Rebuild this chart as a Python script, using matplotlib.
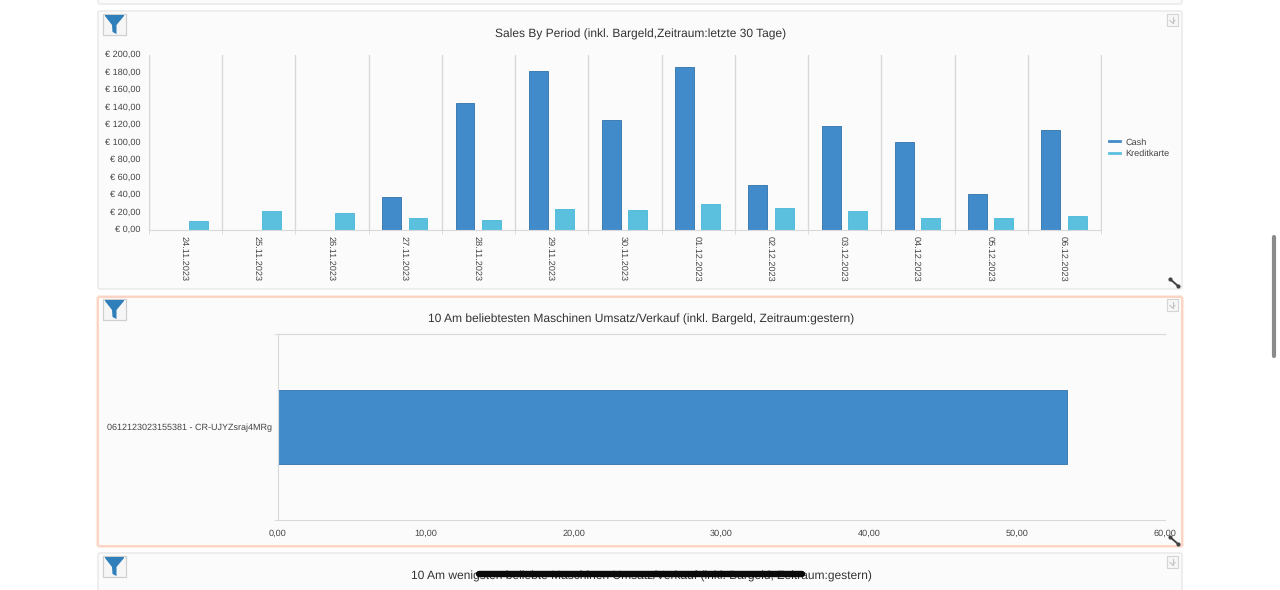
import numpy as np
import matplotlib
matplotlib.use('Agg')
import matplotlib.pyplot as plt
from matplotlib.patches import Rectangle, FancyBboxPatch, Polygon
from matplotlib.transforms import ScaledTranslation

W, H = 1280, 590
plt.rcParams['font.family'] = ['Liberation Sans', 'DejaVu Sans']
plt.rcParams['text.hinting'] = 'no_hinting'

# Data
dates = ['24.11.2023', '25.11.2023', '26.11.2023', '27.11.2023', '28.11.2023',
         '29.11.2023', '30.11.2023', '01.12.2023', '02.12.2023', '03.12.2023',
         '04.12.2023', '05.12.2023', '06.12.2023']
cash = [0, 0, 0, 38, 145, 182, 126, 186, 52, 119, 101, 41, 114]
kredit = [10, 22, 20, 14, 11, 23.5, 22.5, 29.5, 25, 22, 14, 13.5, 16]
y_ticks = [0, 20, 40, 60, 80, 100, 120, 140, 160, 180, 200]
y_labels = ['€ 0,00', '€ 20,00', '€ 40,00', '€ 60,00', '€ 80,00', '€ 100,00',
            '€ 120,00', '€ 140,00', '€ 160,00', '€ 180,00', '€ 200,00']
machines = ['0612123023155381 - CR-UJYZsraj4MRg']
umsatz = [53.4]
x_ticks = [0, 10, 20, 30, 40, 50, 60]
x_labels = ['0,00', '10,00', '20,00', '30,00', '40,00', '50,00', '60,00']

BLUE = '#428bca'
BLUE_EDGE = '#3071a9'
LIGHT = '#5bc0de'
LIGHT_EDGE = '#46b8da'
GRID = '#d8d8d8'
TEXT = '#444444'
TITLE = '#333333'
PANEL = '#fbfbfb'
FS = 6.55


def px_axes(fig, left, top, right, bottom, **kw):
    return fig.add_axes([left / W, 1 - bottom / H, (right - left) / W, (bottom - top) / H], **kw)


fig = plt.figure(figsize=(W / 100, H / 100), dpi=100, facecolor='white')

# page layer in pixels: panels, buttons, scrollbar
bg = fig.add_axes([0, 0, 1, 1], zorder=0)
bg.set_xlim(0, W)
bg.set_ylim(H, 0)
bg.axis('off')


def panel(top, bottom, edge='#e8e8e8', lw=1.0):
    bg.add_patch(FancyBboxPatch((98, top), 1084, bottom - top, boxstyle='round,pad=0,rounding_size=2',
                                fc=PANEL, ec=edge, lw=lw))


def filter_button(top):
    x0 = 102.5
    bg.add_patch(Rectangle((x0, top), 23, 21, fc='#f6f6f6', ec='#d0d0d0', lw=0.9))
    bg.add_patch(Polygon([(x0 + 2.5, top + 1), (x0 + 21.5, top + 1), (x0 + 21.5, top + 2), (x0 + 14, top + 11),
                          (x0 + 14, top + 20), (x0 + 10, top + 18), (x0 + 9.5, top + 11), (x0 + 2.5, top + 2)],
                         fc='#2f7fba', ec='none'))


def save_button(top):
    bg.add_patch(Rectangle((1167, top), 11, 12, fc='#f6f6f6', ec='#d4d4d4', lw=0.8))
    bg.plot([1172.5, 1172.5], [top + 2.5, top + 9], color='#c4c4c4', lw=0.8)
    bg.plot([1170, 1172.5, 1175], [top + 6.5, top + 9, top + 6.5], color='#c4c4c4', lw=0.8)


def resize_handle(x, y):
    bg.plot([x, x + 8], [y, y + 7], color='#444444', lw=1.4, solid_capstyle='round')
    bg.plot([x, x + 8], [y, y + 7], ls='none', marker='o', ms=2, color='#444444')


panel(-20, 4)
panel(11, 289)
panel(553, 610)
# soft glow round the selected panel
panel(297, 546, edge='#fdeae2', lw=3)
panel(297, 546, edge='#fbcfbd', lw=1.2)
filter_button(14)
filter_button(299)
filter_button(556)
save_button(14)
save_button(299)
save_button(556)
resize_handle(1170, 279)
resize_handle(1170, 537)

bg.text(641, 34.5, 'Sales By Period (inkl. Bargeld,Zeitraum:letzte 30 Tage)', ha='center', va='center',
        fontsize=8.65, color=TITLE)
bg.text(641, 319.5, '10 Am beliebtesten Maschinen Umsatz/Verkauf (inkl. Bargeld, Zeitraum:gestern)',
        ha='center', va='center', fontsize=8.65, color=TITLE)
bg.text(641, 576.5, '10 Am wenigsten beliebte Maschinen Umsatz/Verkauf (inkl. Bargeld, Zeitraum:gestern)',
        ha='center', va='center', fontsize=8.65, color=TITLE)

# scrollbar and the black strip at the bottom
bg.plot([1273.5, 1273.5], [237, 356], color='#8a8a8a', lw=3, solid_capstyle='round')
bg.plot([479, 802], [574, 574], color='#0a0a0a', lw=4.6, solid_capstyle='round', zorder=10)

# Sales by period
ax = px_axes(fig, 149, 55, 1101, 230, zorder=1)
ax.patch.set_alpha(0)
x = np.arange(len(dates))
ax.bar(x - 0.185, cash, 0.258, color=BLUE, edgecolor=BLUE_EDGE, lw=0.6, label='Cash')
ax.bar(x + 0.173, kredit, 0.258, color=LIGHT, edgecolor=LIGHT_EDGE, lw=0.6, label='Kreditkarte')
ax.set_xlim(-0.5, len(dates) - 0.5)
ax.set_ylim(0, 200)
ax.set_yticks(y_ticks, y_labels, fontsize=FS, color=TEXT)
ax.set_xticks(x, dates, rotation=-90, fontsize=FS, color=TEXT)
ax.set_xticks(np.arange(len(dates) + 1) - 0.5, minor=True)
ax.tick_params(axis='x', which='major', length=0, pad=4.5)
ax.tick_params(axis='x', which='minor', length=3, color=GRID)
ax.tick_params(axis='y', length=0, pad=6)
ax.grid(axis='x', which='minor', color=GRID, lw=1)
ax.set_axisbelow(True)
ax.spines['top'].set_visible(False)
for s in ['left', 'bottom', 'right']:
    ax.spines[s].set_color(GRID)
# labels sit a little off the tick positions
shift = ScaledTranslation(-1.5 / 100, 0, fig.dpi_scale_trans)
for lab in ax.get_xticklabels():
    lab.set_transform(lab.get_transform() + shift)
lift = ScaledTranslation(0, 1 / 100, fig.dpi_scale_trans)
for lab in ax.get_yticklabels():
    lab.set_transform(lab.get_transform() + lift)

# legend drawn with line keys like the original
handles = [plt.Line2D([], [], color=BLUE, lw=2), plt.Line2D([], [], color=LIGHT, lw=2)]
ax.legend(handles, ['Cash', 'Kreditkarte'], loc='center left', bbox_to_anchor=(1 + 8 / 952, 0.469),
          frameon=False, fontsize=FS, labelcolor=TEXT, handlelength=1.2, handletextpad=0.6,
          labelspacing=0.35, borderpad=0, borderaxespad=0)

# Most popular machines
ax2 = px_axes(fig, 278, 334, 1165, 520, zorder=1)
ax2.patch.set_alpha(0)
ax2.barh(machines, umsatz, height=0.4, color=BLUE, edgecolor=BLUE_EDGE, lw=0.6)
ax2.set_xlim(0, 60)
ax2.set_ylim(-0.5, 0.5)
ax2.set_xticks(x_ticks, x_labels, fontsize=FS, color=TEXT)
ax2.set_yticks([-0.5, 0.5], minor=True)
ax2.tick_params(axis='x', length=0, pad=7)
ax2.tick_params(axis='y', which='major', length=0, pad=4.5, labelsize=6.45, labelcolor=TEXT)
ax2.tick_params(axis='y', which='minor', length=3, color=GRID)
ax2.spines['right'].set_visible(False)
for s in ['top', 'left', 'bottom']:
    ax2.spines[s].set_color(GRID)

fig.savefig('out.png', dpi=100)
